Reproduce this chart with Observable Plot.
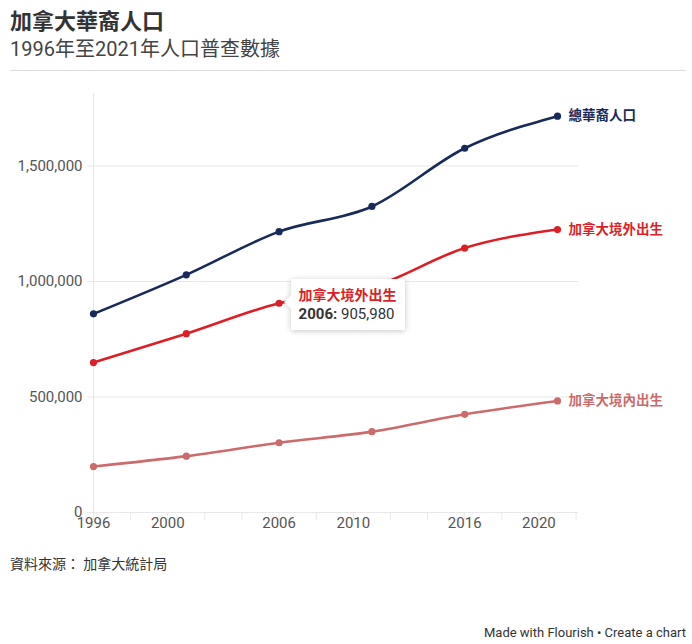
<!DOCTYPE html>
<html>
<head>
<meta charset="utf-8">
<script src="https://cdn.jsdelivr.net/npm/d3@7"></script>
<script src="https://cdn.jsdelivr.net/npm/@observablehq/plot@0.6"></script>
<style>
  html, body { margin: 0; padding: 0; background: #fff; }
  body { width: 692px; height: 644px; position: relative; overflow: hidden;
         font-family: Roboto, "Noto Sans CJK TC", sans-serif; color: #333; }
  #title { position: absolute; left: 10px; top: 5px; font-size: 22px; font-weight: bold; color: #333;
           font-family: "Noto Sans CJK TC", sans-serif; line-height: 28px; }
  #subtitle { position: absolute; left: 10px; top: 36px; font-size: 20px; color: #444; line-height: 26px;
              font-family: Roboto, "Noto Sans CJK TC", sans-serif; }
  #rule { position: absolute; left: 10px; right: 6px; top: 70px; border-top: 1px solid #ddd; }
  #chart { position: absolute; left: 0; top: 80px; }
  #caption { position: absolute; left: 10px; top: 553px; font-size: 14px; color: #333;
             font-family: "Noto Sans CJK TC", sans-serif; }
  #footer { position: absolute; right: 6px; top: 625px; font-size: 13px; color: #333; }
  #tip { position: absolute; background: #fff; box-shadow: 0 1px 6px rgba(0,0,0,0.22);
         padding: 5px 8px 6px 8px; white-space: nowrap; }
  #tip .h { color: #dc1f26; font-weight: bold; font-size: 14px; line-height: 20px;
            font-family: "Noto Sans CJK TC", sans-serif; }
  #tip .v { color: #333; font-size: 15px; line-height: 20px; }
  #tip .arrow { position: absolute; left: -5px; top: 18px; width: 10px; height: 10px; background: #fff;
                transform: rotate(45deg); box-shadow: -2px 2px 3px rgba(0,0,0,0.08); }
</style>
</head>
<body>
<div id="title">加拿大華裔人口</div>
<div id="subtitle">1996年至2021年人口普查數據</div>
<div id="rule"></div>
<div id="chart"></div>
<div id="caption">資料來源： 加拿大統計局</div>
<div id="footer">Made with Flourish • Create a chart</div>
<script>
// ---- data ----
const years = [1996, 2001, 2006, 2011, 2016, 2021];
const seriesNames = ["總華裔人口", "加拿大境外出生", "加拿大境內出生"];
const totalChinese = [860000, 1029000, 1216000, 1325000, 1577000, 1716000];
const foreignBorn = [649000, 774000, 905980, 975000, 1145000, 1225000];
const canadianBorn = [199000, 244000, 302000, 350000, 425000, 483000];
const seriesColors = ["#172a5a", "#dc1f26", "#cc6b6b"];
const yTicks = [0, 500000, 1000000, 1500000];
const xTickLabels = [1996, 2000, 2006, 2010, 2016, 2020];
const xMinorTicks = [1996, 1998, 2000, 2002, 2004, 2006, 2008, 2010, 2012, 2014, 2016, 2018, 2020, 2022];
const tipSeries = "加拿大境外出生";
const tipYear = 2006;

const valuesBySeries = [totalChinese, foreignBorn, canadianBorn];
const rows = [];
seriesNames.forEach((s, i) => years.forEach((y, j) => rows.push({series: s, year: y, value: valuesBySeries[i][j]})));
const lastRows = rows.filter(d => d.year === years[years.length - 1]);

const W = 692, H = 455;
const plot = Plot.plot({
  width: W, height: H,
  marginLeft: 93, marginRight: 114, marginTop: 13, marginBottom: 23,
  style: {fontFamily: 'Roboto, "Noto Sans CJK TC", sans-serif', fontSize: "15px", background: "transparent"},
  x: {domain: [1996, 2021], range: [93, 557]},
  y: {domain: [0, 1814000]},
  color: {domain: seriesNames, range: seriesColors},
  marks: [
    Plot.gridY({ticks: yTicks, stroke: "#e8e8e8", strokeOpacity: 1}),
    Plot.ruleX([1996], {stroke: "#e8e8e8"}),
    Plot.ruleY([0], {stroke: "#e8e8e8"}),
    Plot.axisY({ticks: yTicks, tickSize: 6, tickPadding: 5, tickFormat: d3.format(","),
                stroke: "#e8e8e8", fill: "#555", fontSize: 15, label: null}),
    Plot.axisX({ticks: xMinorTicks, tickSize: 8, tickFormat: () => "", stroke: "#e8e8e8", label: null}),
    Plot.axisX({ticks: xTickLabels, tickSize: 0, tickPadding: 5, tickFormat: d => String(d),
                fill: "#555", fontSize: 15, label: null}),
    Plot.line(rows, {x: "year", y: "value", z: "series", stroke: "series", strokeWidth: 2.6, curve: "monotone-x"}),
    Plot.dot(rows, {x: "year", y: "value", fill: "series", r: 3.6}),
    Plot.text(lastRows, {x: "year", y: "value", text: "series", fill: "series", dx: 11, textAnchor: "start",
                         fontWeight: "bold", fontSize: 13.5, fontFamily: '"Noto Sans CJK TC", sans-serif'})
  ]
});
document.getElementById("chart").appendChild(plot);

// tooltip anchored via the plot's own scales
const sx = plot.scale("x"), sy = plot.scale("y");
const tipIdx = seriesNames.indexOf(tipSeries);
const tipVal = valuesBySeries[tipIdx][years.indexOf(tipYear)];
const px = sx.apply(tipYear), py = sy.apply(tipVal) + 80;
const tip = document.createElement("div");
tip.id = "tip";
tip.innerHTML = `<div class="arrow"></div><div class="h">${tipSeries}</div><div class="v"><b>${tipYear}:</b> ${d3.format(",")(tipVal)}</div>`;
tip.style.left = (px + 12) + "px";
tip.style.top = (py - 24) + "px";
document.body.appendChild(tip);
</script>
</body>
</html>
